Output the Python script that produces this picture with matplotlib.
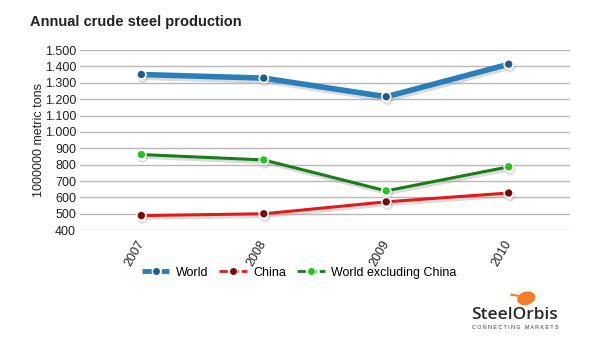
import numpy as np
import matplotlib.pyplot as plt
import matplotlib.patheffects as pe
from matplotlib.lines import Line2D
from matplotlib.patches import Ellipse
from matplotlib.ticker import FuncFormatter

plt.rcParams['font.family'] = ['Liberation Sans', 'DejaVu Sans']

years = ['2007', '2008', '2009', '2010']
world = [1351, 1329, 1215, 1414]
china = [489, 500, 573, 627]
world_ex_china = [862, 829, 640, 787]

fig = plt.figure(figsize=(5.98, 3.53), dpi=100)
ax = fig.add_axes([0.134, 0.348, 0.819, 0.51])

x = np.arange(len(years))
shadow = [pe.SimpleLineShadow(offset=(1, -2), shadow_color='#999999', alpha=0.35), pe.Normal()]

ax.plot(x, world, color='#2a7fba', lw=4, marker='o', ms=6.5, mfc='#1d5a8e', mec='white', mew=1.2,
        path_effects=shadow, zorder=4)
ax.plot(x, china, color='#e01b1b', lw=2.2, marker='o', ms=6.5, mfc='#7a0a0a', mec='white', mew=1.2,
        path_effects=shadow, zorder=3)
ax.plot(x, world_ex_china, color='#1a7d1a', lw=2.2, marker='o', ms=6.5, mfc='#22c422', mec='white', mew=1.2,
        path_effects=shadow, zorder=3)

ax.set_xlim(-0.5, 3.5)
ax.set_ylim(400, 1500)
ax.set_yticks(range(400, 1501, 100))
ax.yaxis.set_major_formatter(FuncFormatter(lambda v, p: f'{int(v):,}'.replace(',', '.')))
ax.set_xticks(x)
ax.set_xticklabels(years, rotation=60, ha='right', va='center', rotation_mode='anchor')
ax.tick_params(length=0, labelsize=9, colors='#222222')
ax.tick_params(axis='y', pad=3)
ax.tick_params(axis='x', pad=8)
ax.grid(axis='y', color='#b8b8b8', lw=1)
ax.set_axisbelow(True)
for s in ax.spines.values():
    s.set_visible(False)
ax.set_ylabel('1000000 metric tons', fontsize=9, color='#222222', labelpad=0)

fig.text(0.05, 0.925, 'Annual crude steel production', fontsize=10.5, fontweight='bold', color='#222222')

handles = [
    Line2D([], [], color='#2a7fba', lw=3.5, ls=(0, (3, 1)), marker='o', ms=6, mfc='#1d5a8e', mec='white'),
    Line2D([], [], color='#e01b1b', lw=2, ls=(0, (3, 1)), marker='o', ms=6, mfc='#7a0a0a', mec='white'),
    Line2D([], [], color='#1a7d1a', lw=2, ls=(0, (3, 1)), marker='o', ms=6, mfc='#22c422', mec='white'),
]
fig.legend(handles, ['World', 'China', 'World excluding China'], loc='center', bbox_to_anchor=(0.5, 0.228),
           ncol=3, frameon=False, fontsize=9, handlelength=2.2, columnspacing=0.9, handletextpad=0.5)

# logo
fig.text(0.788, 0.097, 'SteelOrbis', fontsize=12.5, color='#2a2a2a', family='Open Sans', fontweight='semibold')
fig.text(0.790, 0.068, 'C O N N E C T I N G   M A R K E T S', fontsize=3.8, color='#333333')
fig.patches.append(Ellipse((0.88, 0.155), 0.027, 0.036, angle=-20, transform=fig.transFigure, color='#f07f2c'))
fig.lines.append(Line2D([0.855, 0.875], [0.165, 0.16], transform=fig.transFigure, color='#f07f2c', lw=1.5))

fig.savefig('out.png', dpi=100)
